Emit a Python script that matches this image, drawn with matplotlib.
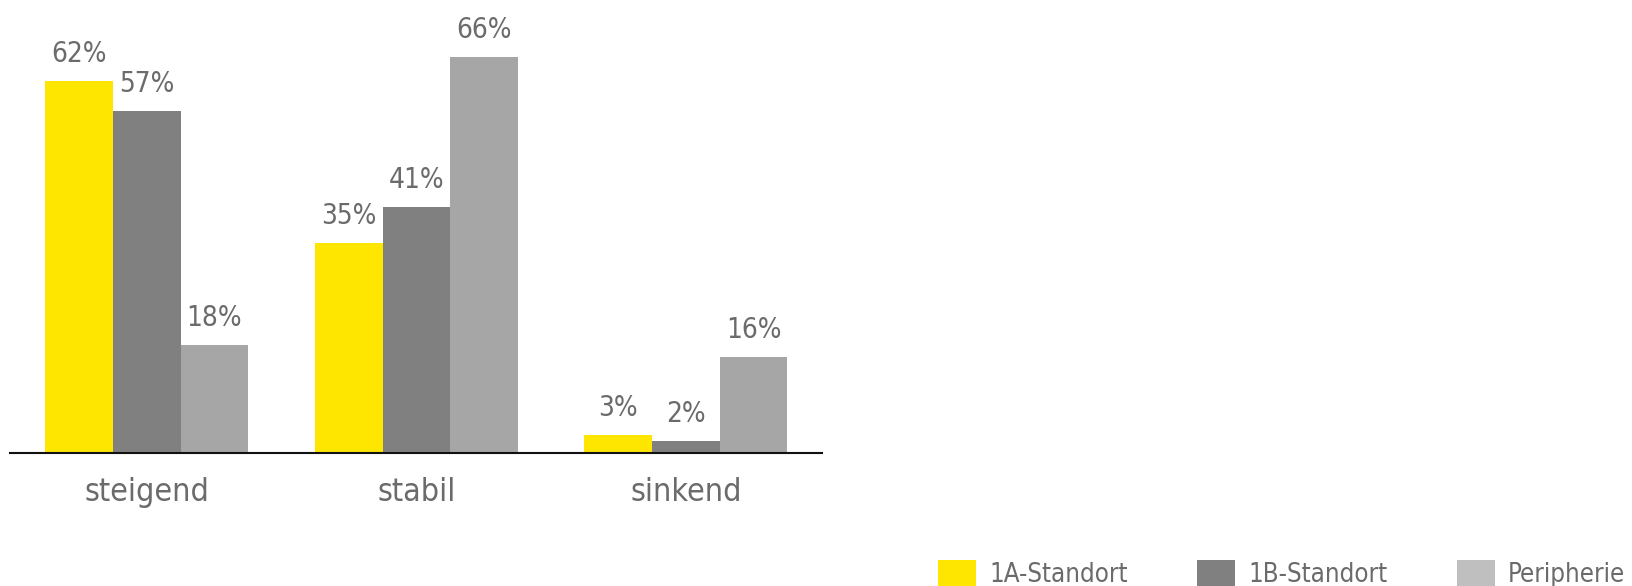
import matplotlib
matplotlib.use("Agg")
import matplotlib.pyplot as plt
from matplotlib.patches import Patch
import numpy as np

plt.rcParams['font.family'] = ['DejaVu Sans']
plt.rcParams['font.stretch'] = 'condensed'

categories = ["steigend", "stabil", "sinkend"]
series_names = ["1A-Standort", "1B-Standort", "Peripherie"]
a1 = [62, 35, 3]
b1 = [57, 41, 2]
peripherie = [18, 66, 16]

bar_colors = ["#FFE600", "#808080", "#A6A6A6"]
legend_colors = ["#FFE600", "#808080", "#BFBFBF"]
text_color = "#6B6B6B"

fig = plt.figure(figsize=(16.32, 5.86), dpi=100)
ax = fig.add_axes([10 / 1632, 133 / 586, 812 / 1632, 453 / 586])

x = np.arange(len(categories))
w = 0.251
for i, vals in enumerate([a1, b1, peripherie]):
    pos = x + (i - 1) * w
    bars = ax.bar(pos, vals, width=w, color=bar_colors[i], linewidth=0)
    for p, v in zip(pos, vals):
        ax.annotate(f"{v}%", (p, v), xytext=(0, 9), textcoords="offset points",
                    ha="center", va="bottom", fontsize=20, color=text_color,
                    fontstretch="condensed")

ax.set_xlim(-0.508, 2.505)
ax.set_ylim(0, 75.5)
ax.set_xticks(x)
ax.set_xticklabels(categories, fontsize=23, color=text_color, fontstretch="condensed")
ax.tick_params(axis="x", length=0, pad=17)
ax.set_yticks([])
for s in ["top", "left", "right"]:
    ax.spines[s].set_visible(False)
ax.spines["bottom"].set_linewidth(1.5)
ax.spines["bottom"].set_color("#111111")
ax.patch.set_alpha(0)

handles = [Patch(facecolor=c, edgecolor="none") for c in legend_colors]
fig.legend(handles, series_names, loc="lower right", bbox_to_anchor=(0.996, -0.004),
           ncol=3, frameon=False, labelcolor=text_color,
           prop={"stretch": "condensed", "size": 18.5},
           handlelength=1.5, handleheight=1.3, handletextpad=0.5,
           columnspacing=2.7, borderaxespad=0.0, borderpad=0.0)

fig.savefig("out.png", dpi=100, facecolor="white")
